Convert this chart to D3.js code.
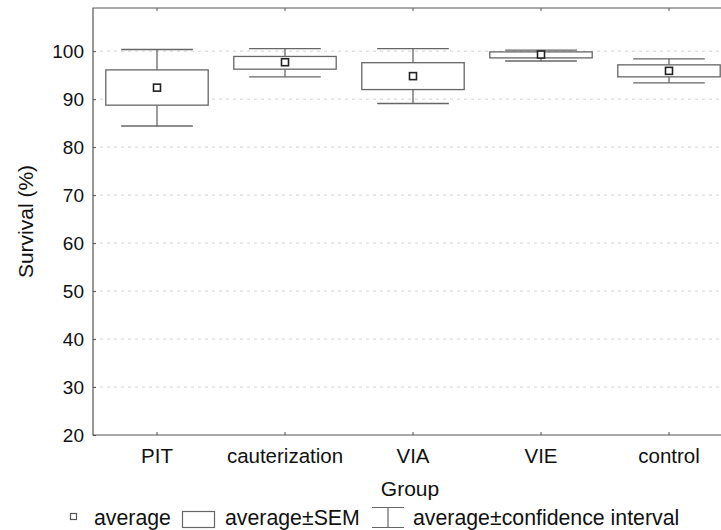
<!DOCTYPE html>
<html>
<head>
<meta charset="utf-8">
<script src="https://cdn.jsdelivr.net/npm/d3@7"></script>
<style>
  body { margin: 0; background: #fff; }
  svg { font-family: "Liberation Sans", Arial, sans-serif; }
</style>
</head>
<body>
<div id="chart"></div>
<script>
const groups = ["PIT", "cauterization", "VIA", "VIE", "control"];
const means = [92.4, 97.7, 94.8, 99.3, 95.9];
const semLow = [88.75, 96.25, 92.0, 98.6, 94.65];
const semHigh = [96.1, 98.9, 97.6, 99.85, 97.15];
const ciLow = [84.4, 94.65, 89.1, 97.95, 93.4];
const ciHigh = [100.35, 100.55, 100.55, 100.2, 98.4];
const yTicks = [20, 30, 40, 50, 60, 70, 80, 90, 100];

const W = 721, H = 530;

const svg = d3.select("#chart").append("svg")
  .attr("width", W).attr("height", H);

const x = d3.scaleBand().domain(groups).range([93, 733]);
const y = d3.scaleLinear().domain([20, 109]).range([435, 8]);

const frame = "#555";

// grid
svg.append("g").selectAll("line")
  .data(yTicks.filter(d => d > 20))
  .enter().append("line")
  .attr("x1", 93).attr("x2", W)
  .attr("y1", d => y(d)).attr("y2", d => y(d))
  .attr("stroke", "#d2d2d2")
  .attr("stroke-dasharray", "3,4");

// axes
const yAxis = svg.append("g")
  .attr("transform", "translate(93,0)")
  .call(d3.axisRight(y).tickValues(yTicks).tickSize(3).tickFormat(""));
yAxis.select(".domain").remove();
yAxis.selectAll("line").attr("stroke", frame);

const bottomAxis = svg.append("g")
  .attr("transform", "translate(0,435)")
  .call(d3.axisTop(x).tickSize(3).tickFormat(""));
bottomAxis.select(".domain").remove();
bottomAxis.selectAll("line").attr("stroke", frame);

const topAxis = svg.append("g")
  .attr("transform", "translate(0,8)")
  .call(d3.axisBottom(x).tickSize(3).tickFormat(""));
topAxis.select(".domain").remove();
topAxis.selectAll("line").attr("stroke", frame);

svg.append("path")
  .attr("d", `M${W},8H93V435H${W}`)
  .attr("fill", "none").attr("stroke", frame).attr("stroke-width", 1.2);

// tick labels
svg.append("g").selectAll("text")
  .data(yTicks).enter().append("text")
  .attr("x", 84).attr("y", d => y(d) + 6.5)
  .attr("text-anchor", "end")
  .attr("font-size", 19).attr("fill", "#111")
  .text(d => d);

svg.append("g").selectAll("text")
  .data(groups).enter().append("text")
  .attr("x", d => x(d) + x.bandwidth() / 2)
  .attr("y", 463)
  .attr("text-anchor", "middle")
  .attr("font-size", 20.5).attr("fill", "#111")
  .text(d => d);

svg.append("text")
  .attr("x", 410).attr("y", 496)
  .attr("text-anchor", "middle")
  .attr("font-size", 21).attr("fill", "#111")
  .text("Group");

svg.append("text")
  .attr("transform", `translate(33,${(8 + 435) / 2}) rotate(-90)`)
  .attr("text-anchor", "middle")
  .attr("font-size", 21).attr("fill", "#111")
  .text("Survival (%)");

// boxes
const data = groups.map((g, i) => ({
  g, mean: means[i], lo: semLow[i], hi: semHigh[i], cl: ciLow[i], ch: ciHigh[i]
}));
const boxW = x.bandwidth() * 0.8;
const capW = x.bandwidth() * 0.56;
const boxColor = "#666";

const items = svg.append("g").selectAll("g")
  .data(data).enter().append("g")
  .attr("transform", d => `translate(${x(d.g) + x.bandwidth() / 2},0)`);

items.append("line")
  .attr("x1", 0).attr("x2", 0)
  .attr("y1", d => y(d.ch)).attr("y2", d => y(d.hi))
  .attr("stroke", boxColor).attr("stroke-width", 1.3);
items.append("line")
  .attr("x1", 0).attr("x2", 0)
  .attr("y1", d => y(d.lo)).attr("y2", d => y(d.cl))
  .attr("stroke", boxColor).attr("stroke-width", 1.3);
items.append("line")
  .attr("x1", -capW / 2).attr("x2", capW / 2)
  .attr("y1", d => y(d.ch)).attr("y2", d => y(d.ch))
  .attr("stroke", boxColor).attr("stroke-width", 1.3);
items.append("line")
  .attr("x1", -capW / 2).attr("x2", capW / 2)
  .attr("y1", d => y(d.cl)).attr("y2", d => y(d.cl))
  .attr("stroke", boxColor).attr("stroke-width", 1.3);
items.append("rect")
  .attr("x", -boxW / 2).attr("width", boxW)
  .attr("y", d => y(d.hi)).attr("height", d => y(d.lo) - y(d.hi))
  .attr("fill", "#fff").attr("stroke", boxColor).attr("stroke-width", 1.3);
items.append("rect")
  .attr("x", -3.5).attr("width", 7)
  .attr("y", d => y(d.mean) - 3.5).attr("height", 7)
  .attr("fill", "#fff").attr("stroke", "#222").attr("stroke-width", 1.6);

// legend
const leg = svg.append("g").attr("font-size", 21.3).attr("fill", "#111");
leg.append("rect").attr("x", 70.5).attr("y", 513.5).attr("width", 6).attr("height", 6)
  .attr("fill", "#fff").attr("stroke", "#555").attr("stroke-width", 1.2);
leg.append("text").attr("x", 94).attr("y", 525).text("average");
leg.append("rect").attr("x", 182.5).attr("y", 511.5).attr("width", 32).attr("height", 16)
  .attr("fill", "#fff").attr("stroke", "#666").attr("stroke-width", 1.2);
leg.append("text").attr("x", 225).attr("y", 525).text("average±SEM");
leg.append("path").attr("d", "M372,507.5H404M388,507.5V527.5M372,527.5H404")
  .attr("fill", "none").attr("stroke", "#666").attr("stroke-width", 1.2);
leg.append("text").attr("x", 413).attr("y", 525).text("average±confidence interval");
</script>
</body>
</html>
